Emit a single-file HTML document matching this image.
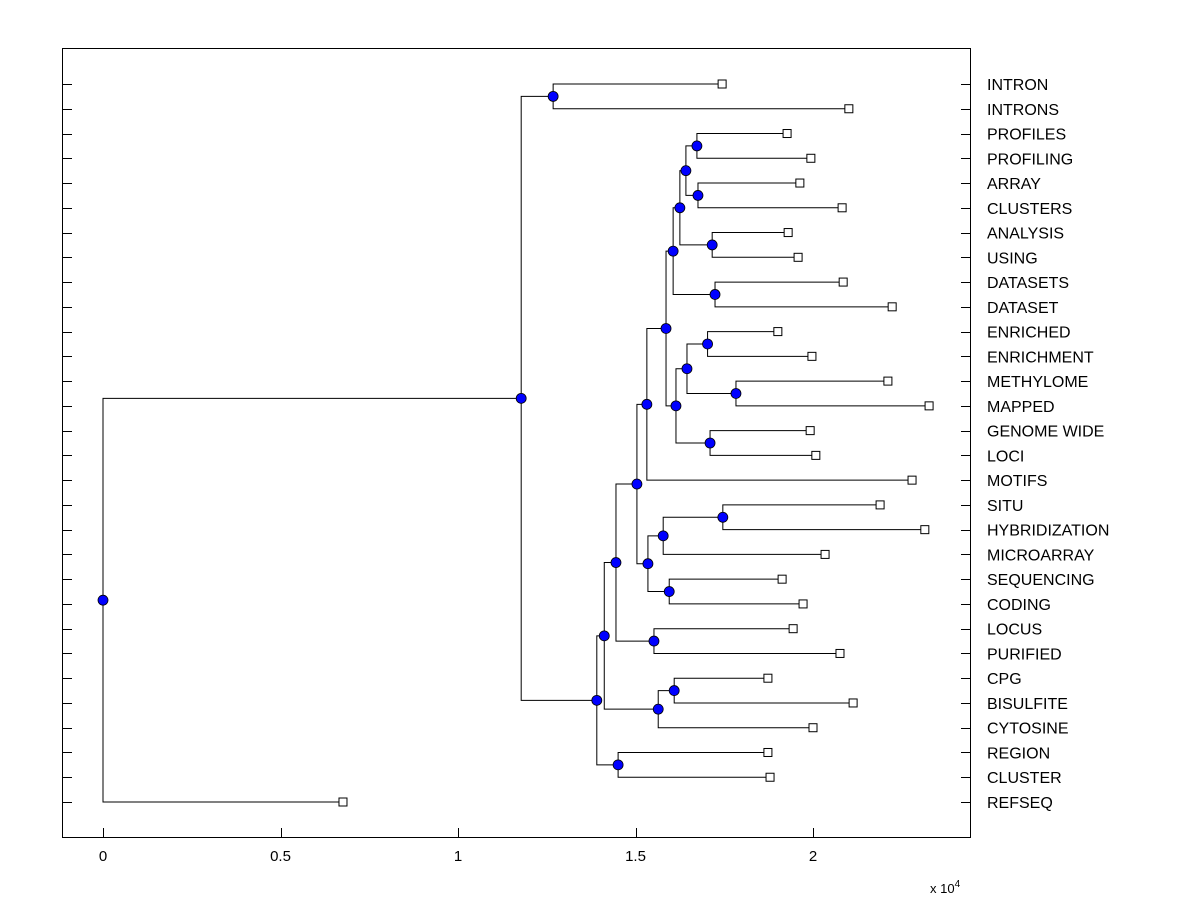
<!DOCTYPE html>
<html><head><meta charset="utf-8"><style>
body{margin:0;background:#fff;}
svg text{font-family:"Liberation Sans",Arial,sans-serif;}
</style></head><body>
<svg id="chart" width="1200" height="900" xmlns="http://www.w3.org/2000/svg">
<rect x="62.5" y="48.5" width="908" height="789" fill="#fff" stroke="#000" stroke-width="1"/>
<g id="marks"></g>
<text x="930" y="893" font-size="13">x 10<tspan dy="-6" font-size="10">4</tspan></text>
</svg>
<script>
const leafNames=["INTRON","INTRONS","PROFILES","PROFILING","ARRAY","CLUSTERS","ANALYSIS","USING","DATASETS","DATASET","ENRICHED","ENRICHMENT","METHYLOME","MAPPED","GENOME WIDE","LOCI","MOTIFS","SITU","HYBRIDIZATION","MICROARRAY","SEQUENCING","CODING","LOCUS","PURIFIED","CPG","BISULFITE","CYTOSINE","REGION","CLUSTER","REFSEQ"];
const leafHeights=[1.744,2.101,1.927,1.994,1.963,2.082,1.930,1.958,2.085,2.223,1.901,1.997,2.211,2.327,1.992,2.008,2.279,2.189,2.315,2.034,1.913,1.972,1.944,2.076,1.873,2.113,2.0,1.873,1.879,0.676];
const nodeNames=["B","T","U","R","S","P","Q","N","X","Y","V","W","O","M","K","AB","Z","AA","L","I","J","F","H","G","D","E","C","A","ROOT"];
const nodeChildren=[["INTRON","INTRONS"],["PROFILES","PROFILING"],["ARRAY","CLUSTERS"],["T","U"],["ANALYSIS","USING"],["R","S"],["DATASETS","DATASET"],["P","Q"],["ENRICHED","ENRICHMENT"],["METHYLOME","MAPPED"],["X","Y"],["GENOME WIDE","LOCI"],["V","W"],["N","O"],["M","MOTIFS"],["SITU","HYBRIDIZATION"],["AB","MICROARRAY"],["SEQUENCING","CODING"],["Z","AA"],["K","L"],["LOCUS","PURIFIED"],["I","J"],["CPG","BISULFITE"],["H","CYTOSINE"],["F","G"],["REGION","CLUSTER"],["D","E"],["B","C"],["A","REFSEQ"]];
const nodeHeights=[1.268,1.673,1.676,1.642,1.716,1.625,1.724,1.606,1.703,1.783,1.645,1.710,1.614,1.586,1.532,1.746,1.578,1.595,1.535,1.504,1.552,1.445,1.609,1.564,1.412,1.451,1.391,1.178,0];
const xTicks=[0,0.5,1,1.5,2];
const xTickLabels=["0","0.5","1","1.5","2"];

const X0=103,XS=355,Y0=84,YS=718/29;
const xs=v=>X0+v*XS, ys=i=>Y0+i*YS;
const svg=document.getElementById('marks');
const NS="http://www.w3.org/2000/svg";
function mk(t,a){const e=document.createElementNS(NS,t);for(const k in a)e.setAttribute(k,a[k]);svg.appendChild(e);return e;}
const pos={};
leafNames.forEach((n,i)=>{pos[n]={x:xs(leafHeights[i]),y:ys(i)};});
nodeNames.forEach((n,i)=>{const c=nodeChildren[i];pos[n]={x:xs(nodeHeights[i]),y:(pos[c[0]].y+pos[c[1]].y)/2};});
leafNames.forEach((n,i)=>{
  const y=Math.round(ys(i))+0.5;
  const t1=mk('line',{x1:62,y1:y,x2:72,y2:y,stroke:'#000'});
  
  
  const t2=mk('line',{x1:961,y1:y,x2:971,y2:y,stroke:'#000'});
  
  
  const tx=mk('text',{x:987,y:ys(i)+6,'font-size':16});
  tx.textContent=n;
  
  
});
xTicks.forEach((v,i)=>{
  const x=Math.round(xs(v))+0.5;
  const t=mk('line',{x1:x,y1:838,x2:x,y2:828,stroke:'#000'});
  
  
  const tx=mk('text',{x:xs(v),y:861,'font-size':15,'text-anchor':'middle'});
  tx.textContent=xTickLabels[i];
  
  
});
nodeNames.forEach((n,i)=>{
  const p=pos[n];
  nodeChildren[i].forEach(c=>{
    const q=pos[c];
    const l=mk('polyline',{points:`${p.x},${p.y} ${p.x},${q.y} ${q.x},${q.y}`,fill:'none',stroke:'#000','stroke-width':1});
    
    
  });
});
nodeNames.forEach(n=>{
  const p=pos[n];
  const c=mk('circle',{cx:p.x,cy:p.y,r:5,fill:'#0000ff',stroke:'#000','stroke-width':0.8});
  
  
});
leafNames.forEach(n=>{
  const p=pos[n];
  const r=mk('rect',{x:p.x-4,y:p.y-4,width:8,height:8,fill:'#fff',stroke:'#000','stroke-width':1});
  
  
});
</script>
</body></html>
